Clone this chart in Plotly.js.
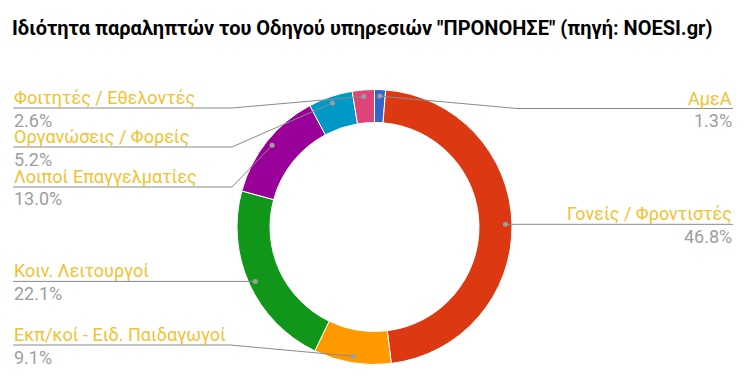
<!DOCTYPE html>
<html><head><meta charset="utf-8">
<script src="https://cdn.plot.ly/plotly-3.0.1.min.js"></script>
<style>html,body{margin:0;padding:0;background:#fff}#chart{width:747px;height:383px}</style>
</head><body><div id="chart"></div>
<script>
// ---- data ----
const labels = ['ΑμεΑ','Γονείς / Φροντιστές','Εκπ/κοί - Ειδ. Παιδαγωγοί','Κοιν. Λειτουργοί','Λοιποί Επαγγελματίες','Οργανώσεις / Φορείς','Φοιτητές / Εθελοντές'];
const values = [1.3, 46.8, 9.1, 22.1, 13.0, 5.2, 2.6];
const percentText = ['1.3%','46.8%','9.1%','22.1%','13.0%','5.2%','2.6%'];
const titleText = 'Ιδιότητα παραληπτών του Οδηγού υπηρεσιών "ΠΡΟΝΟΗΣΕ" (πηγή: NOESI.gr)';

// ---- styles / layout ----
const colors = ['#3366cc','#dc3912','#ff9900','#109618','#990099','#0099c6','#dd4477'];
const W = 747, H = 383;
const CX = 374.5, CY = 227, R_OUT = 137.5, R_IN = 104.5, R_DOT = 131;
const labelSide = ['right','right','left','left','left','left','left'];
const labelLineY = [108.5, null, 345, null, 187, 147, 108];
const elbowX = [517, null, 230, null, 232, 232, 232];
const LEFT_X = 13, RIGHT_X = 733;
const labelColor = '#f1c232', pctColor = '#9e9e9e', lineColor = '#8a8a8a';
const FONT = 'Roboto, sans-serif';
const LABEL_SIZE = 18, TITLE_SIZE = 20;

const px = x => x / W, py = y => 1 - y / H;

const total = values.reduce((a, b) => a + b, 0);
const shapes = [], annotations = [];
let cum = 0;
values.forEach((v, i) => {
  const mid = (cum + v / 2) / total * 2 * Math.PI;
  cum += v;
  const dx = CX + R_DOT * Math.sin(mid), dy = CY - R_DOT * Math.cos(mid);
  const ly = labelLineY[i] === null ? dy : labelLineY[i];
  const ex = elbowX[i] === null ? dx : elbowX[i];
  const endX = labelSide[i] === 'left' ? LEFT_X : RIGHT_X;
  shapes.push({type: 'path', xref: 'paper', yref: 'paper',
    path: `M ${px(dx)} ${py(dy)} L ${px(ex)} ${py(ly)} L ${px(endX)} ${py(ly)}`,
    line: {color: lineColor, width: 1}});
  shapes.push({type: 'circle', xref: 'paper', yref: 'paper',
    x0: px(dx - 2.5), x1: px(dx + 2.5), y0: py(dy + 2.5), y1: py(dy - 2.5),
    fillcolor: '#9e9e9e', line: {width: 0}});
  const xa = labelSide[i] === 'left' ? 'left' : 'right';
  annotations.push({xref: 'paper', yref: 'paper', x: px(endX), y: py(ly + 1),
    xanchor: xa, yanchor: 'bottom', text: labels[i], showarrow: false, borderpad: 0,
    font: {family: FONT, size: LABEL_SIZE, color: labelColor}});
  annotations.push({xref: 'paper', yref: 'paper', x: px(endX), y: py(ly + 0.5),
    xanchor: xa, yanchor: 'top', text: percentText[i], showarrow: false, borderpad: 0,
    font: {family: FONT, size: LABEL_SIZE, color: pctColor}});
});

const trace = {
  type: 'pie', labels: labels, values: values, hole: R_IN / R_OUT,
  sort: false, direction: 'clockwise', rotation: 0,
  marker: {colors: colors, line: {color: '#ffffff', width: 1}},
  textinfo: 'none', hoverinfo: 'none', showlegend: false,
  domain: {x: [px(CX - R_OUT), px(CX + R_OUT)], y: [py(CY + R_OUT), py(CY - R_OUT)]}
};

const layout = {
  width: W, height: H, margin: {l: 0, r: 0, t: 0, b: 0},
  paper_bgcolor: '#fff', showlegend: false,
  title: {text: '<b>' + titleText + '</b>', x: 12 / W, xanchor: 'left', xref: 'paper',
    y: 1 - 28 / H, yref: 'container', yanchor: 'middle',
    font: {family: FONT, size: TITLE_SIZE, color: '#000'}},
  shapes: shapes, annotations: annotations
};
Plotly.newPlot('chart', [trace], layout, {displayModeBar: false, staticPlot: true});
</script></body></html>
